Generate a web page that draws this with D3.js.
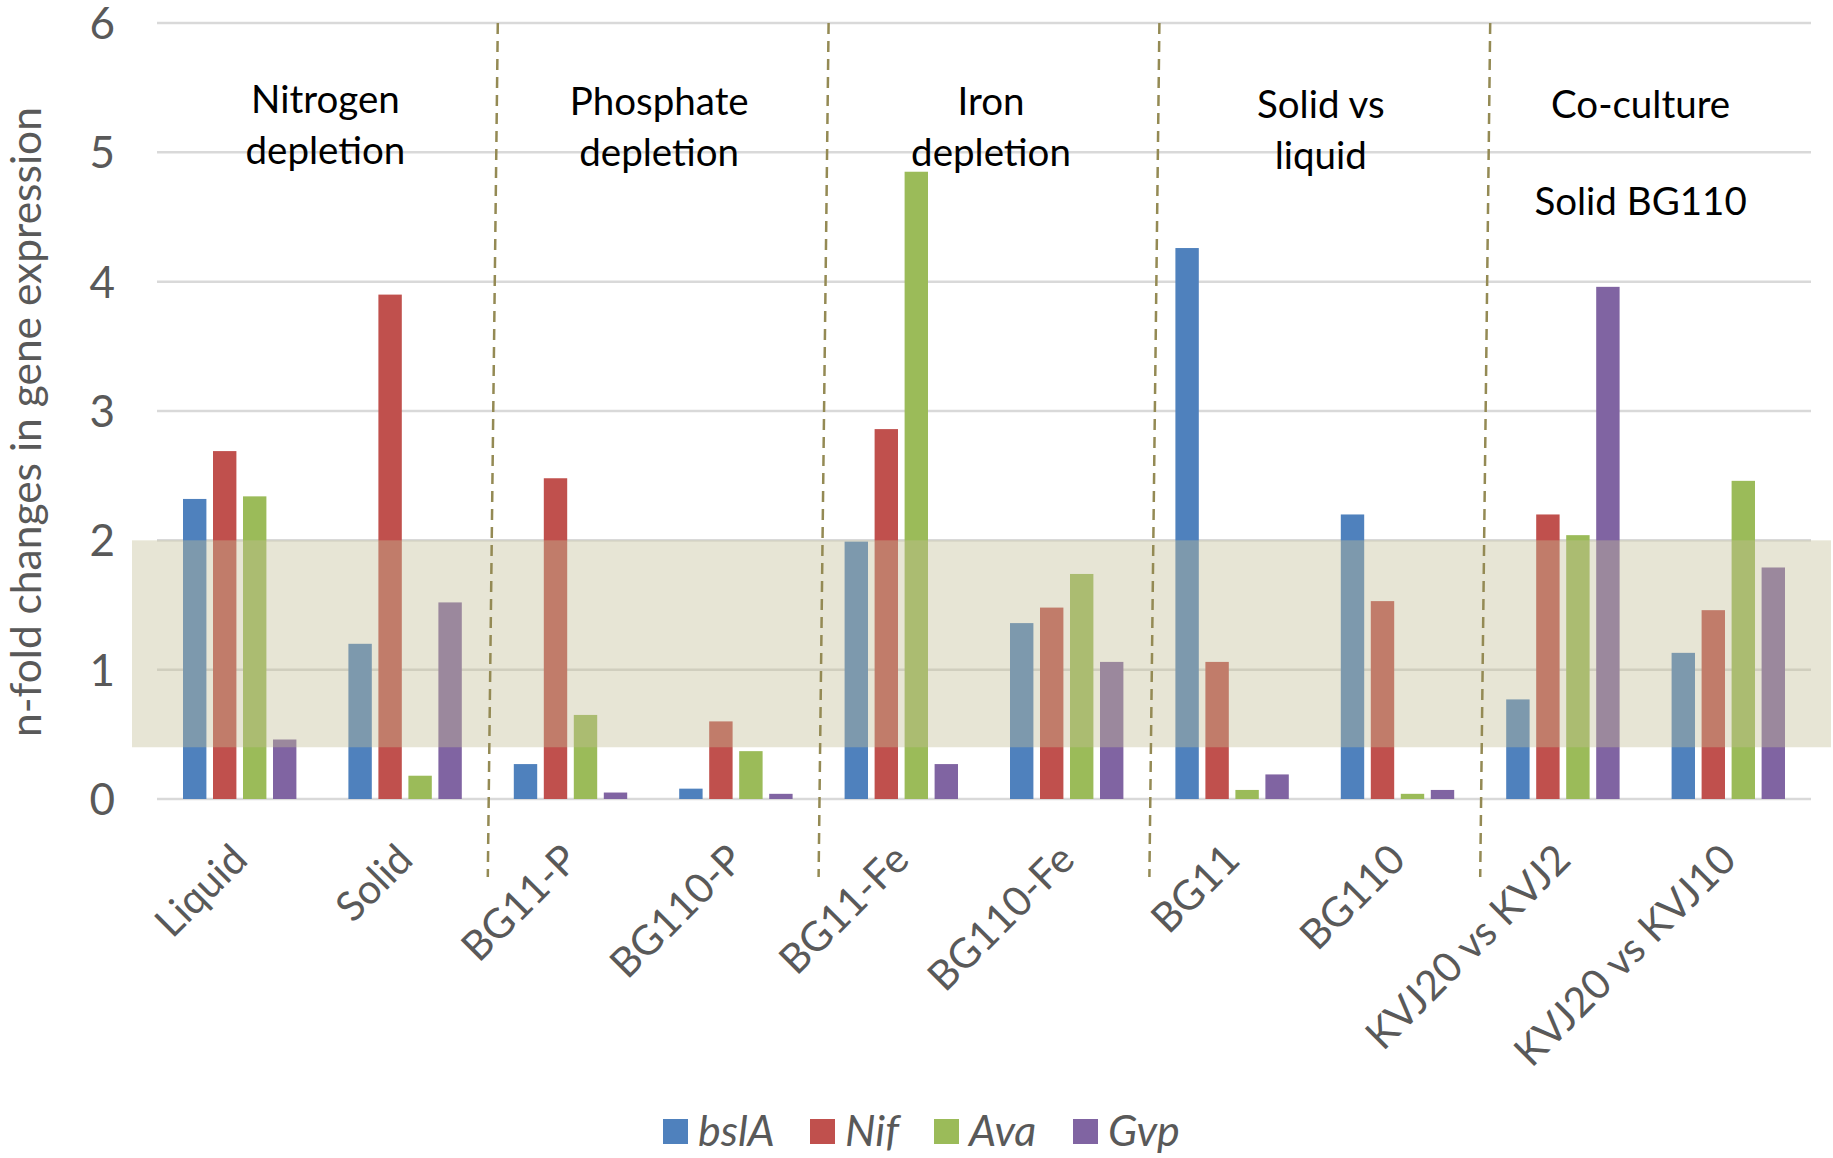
<!DOCTYPE html>
<html>
<head>
<meta charset="utf-8">
<script src="https://cdn.jsdelivr.net/npm/d3@7"></script>
<style>
  body { margin: 0; background: #fff; }
  text { font-family: Lato, "Open Sans", sans-serif; }
</style>
</head>
<body>
<div id="chart"></div>
<script>
// categories along the x axis
var categories = ["Liquid", "Solid", "BG11-P", "BG110-P", "BG11-Fe", "BG110-Fe",
                  "BG11", "BG110", "KVJ20 vs KVJ2", "KVJ20 vs KVJ10"];
var genes = ["bslA", "Nif", "Ava", "Gvp"];
var geneColors = ["#4f81bd", "#c0504d", "#9bbb59", "#8064a2"];

// n-fold change per gene, one value per category
var bslA = [2.32, 1.20, 0.27, 0.08, 1.99, 1.36, 4.26, 2.20, 0.77, 1.13];
var nif  = [2.69, 3.90, 2.48, 0.60, 2.86, 1.48, 1.06, 1.53, 2.20, 1.46];
var ava  = [2.34, 0.18, 0.65, 0.37, 4.85, 1.74, 0.07, 0.04, 2.04, 2.46];
var gvp  = [0.46, 1.52, 0.05, 0.04, 0.27, 1.06, 0.19, 0.07, 3.96, 1.79];

var yTicks = [0, 1, 2, 3, 4, 5, 6];
// shaded "no change" band
var bandRange = [0.4, 2.0];

// experiment groups: first and last category, label lines
var groupFrom = ["Liquid", "BG11-P", "BG11-Fe", "BG11", "KVJ20 vs KVJ2"];
var groupTo   = ["Solid", "BG110-P", "BG110-Fe", "BG110", "KVJ20 vs KVJ10"];
var groupLines = [["Nitrogen", "depletion"], ["Phosphate", "depletion"], ["Iron", "depletion"],
                  ["Solid vs", "liquid"], ["Co-culture", "", "Solid BG110"]];

var W = 1833, H = 1158;
var margin = { left: 157, right: 1811, top: 23, bottom: 799 };

var svg = d3.select("#chart").append("svg")
    .attr("width", W)
    .attr("height", H);

var x0 = d3.scaleBand().domain(categories).range([margin.left, margin.right]).padding(0);
var x1 = d3.scaleBand().domain(genes)
    .range([26, x0.bandwidth() - 26])
    .paddingInner(0.22);
var y = d3.scaleLinear().domain([0, 6]).range([margin.bottom, margin.top]);

// gridlines
svg.append("g")
    .selectAll("line")
    .data(yTicks)
    .enter().append("line")
    .attr("x1", margin.left)
    .attr("x2", margin.right)
    .attr("y1", function (d) { return y(d); })
    .attr("y2", function (d) { return y(d); })
    .attr("stroke", "#d9d9d9")
    .attr("stroke-width", 2.5);

// y tick labels
svg.append("g")
    .selectAll("text")
    .data(yTicks)
    .enter().append("text")
    .attr("x", 115)
    .attr("y", function (d) { return y(d); })
    .attr("dy", "0.36em")
    .attr("text-anchor", "end")
    .attr("fill", "#595959")
    .style("font-size", "44px")
    .text(function (d) { return d; });

// bars
var series = [bslA, nif, ava, gvp];
var rows = [];
categories.forEach(function (c, i) {
    genes.forEach(function (g, j) {
        rows.push({ cat: c, gene: g, value: series[j][i], color: geneColors[j] });
    });
});

svg.append("g")
    .selectAll("rect")
    .data(rows)
    .enter().append("rect")
    .attr("x", function (d) { return x0(d.cat) + x1(d.gene); })
    .attr("y", function (d) { return y(d.value); })
    .attr("width", x1.bandwidth())
    .attr("height", function (d) { return y(0) - y(d.value); })
    .attr("fill", function (d) { return d.color; });

// semi-transparent band drawn over the bars
svg.append("rect")
    .attr("x", 132)
    .attr("y", y(bandRange[1]))
    .attr("width", 1831 - 132)
    .attr("height", y(bandRange[0]) - y(bandRange[1]))
    .attr("fill", "#c4bd97")
    .attr("opacity", 0.4);

// dashed dividers between groups (slightly slanted, as in the original)
var dividers = groupTo.slice(0, -1).map(function (c) { return x0(c) + x0.bandwidth(); });
svg.append("g")
    .selectAll("line")
    .data(dividers)
    .enter().append("line")
    .attr("x1", function (d) { return d + 10; })
    .attr("y1", margin.top)
    .attr("x2", function (d) { return d; })
    .attr("y2", margin.bottom + 78)
    .attr("stroke", "#948a54")
    .attr("stroke-width", 2.5)
    .attr("stroke-dasharray", "11,7");

// group labels
var lineY = [[99, 150], [101, 152], [101, 152], [104, 155], [104, 0, 201]];
var labelShift = [3, 6, 7, 6, -5];
groupLines.forEach(function (lines, i) {
    var cx = (x0(groupFrom[i]) + x0(groupTo[i]) + x0.bandwidth()) / 2 + labelShift[i];
    lines.forEach(function (t, k) {
        if (!t) return;
        svg.append("text")
            .attr("x", cx)
            .attr("y", lineY[i][k])
            .attr("dy", "0.36em")
            .attr("text-anchor", "middle")
            .attr("fill", "#000")
            .style("font-size", "38.5px")
            .text(t);
    });
});

// x labels rotated
svg.append("g")
    .selectAll("text")
    .data(categories)
    .enter().append("text")
    .attr("transform", function (d) {
        return "translate(" + (x0(d) + x0.bandwidth() / 2 + 10) + "," + (margin.bottom + 63) + ") rotate(-45)";
    })
    .attr("text-anchor", "end")
    .attr("fill", "#595959")
    .style("font-size", "41px")
    .text(function (d) { return d; });

// y axis title
svg.append("text")
    .attr("transform", "translate(26," + 422 + ") rotate(-90)")
    .attr("text-anchor", "middle")
    .attr("dy", "0.36em")
    .attr("fill", "#595959")
    .style("font-size", "42.5px")
    .text("n-fold changes in gene expression");

// legend
var legendX = [663, 810, 934, 1073];
var legend = svg.append("g")
    .selectAll("g")
    .data(genes)
    .enter().append("g")
    .attr("transform", function (d, i) { return "translate(" + legendX[i] + ",1131)"; });

legend.append("rect")
    .attr("x", 0)
    .attr("y", -12)
    .attr("width", 25)
    .attr("height", 25)
    .attr("fill", function (d, i) { return geneColors[i]; });

legend.append("text")
    .attr("x", 35)
    .attr("dy", "0.36em")
    .attr("fill", "#595959")
    .style("font-size", "43px")
    .style("font-style", "italic")
    .text(function (d) { return d; });
</script>
</body>
</html>
